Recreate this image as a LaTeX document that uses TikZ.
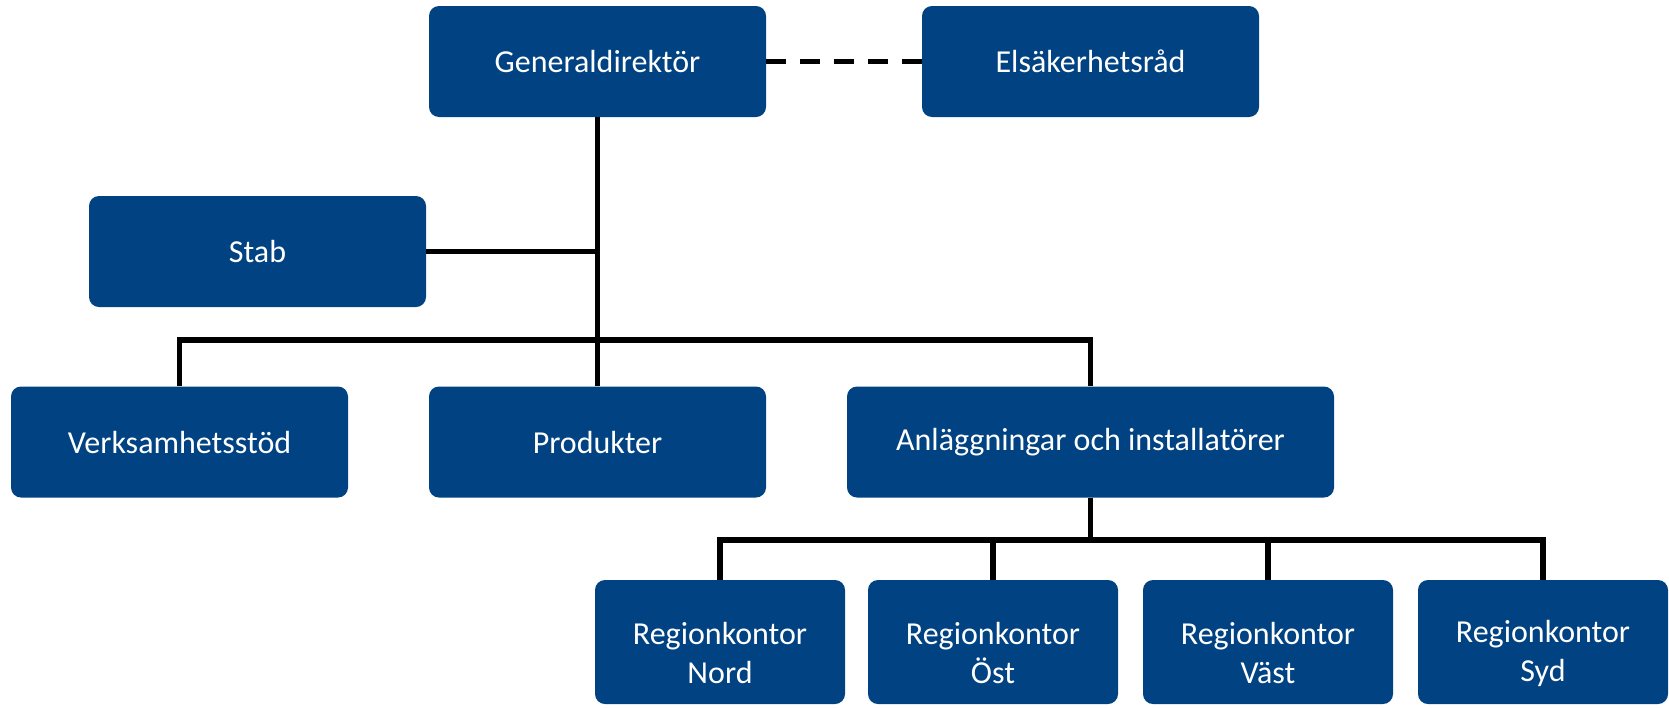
\documentclass[tikz,border=0pt]{standalone}
\usepackage{fontspec}
\setmainfont{Carlito}
\definecolor{boxblue}{RGB}{0,66,130}
\begin{document}
\begin{tikzpicture}[x=1pt,y=-1pt,
  unit/.style={fill=boxblue, rounded corners=10pt, text=white, align=center,
    font=\fontsize{32}{39}\selectfont, inner sep=0pt},
  bigbox/.style={unit, minimum width=337pt, minimum height=111pt},
  widebox/.style={unit, minimum width=487pt, minimum height=111pt},
  regbox/.style={unit, minimum width=250pt, minimum height=124pt},
  regtext/.style={text=white, align=center, font=\fontsize{32}{39}\selectfont,
    inner sep=0pt, yshift=-11pt},
  link/.style={draw=black, line width=5.5pt},
  dotlink/.style={draw=black, line width=5.5pt, dash pattern=on 20pt off 14pt}]
\useasboundingbox (0,0) rectangle (1669,707);
\node[bigbox] (gd) at (597.5,61.5) {Generaldirektör};
\node[bigbox] (els) at (1090.5,61.5) {Elsäkerhetsråd};
\node[bigbox] (stab) at (257.5,251.5) {Stab};
\node[bigbox] (vs) at (179.5,442) {Verksamhetsstöd};
\node[bigbox] (prod) at (597.5,442) {Produkter};
\node[widebox] (anl) at (1090.5,442) {Anläggningar och installatörer};
\node[regbox, label={[regtext]center:Regionkontor\\Nord}] (rn) at (720,642) {};
\node[regbox, label={[regtext]center:Regionkontor\\Öst}] (ro) at (993,642) {};
\node[regbox, label={[regtext]center:Regionkontor\\Väst}] (rv) at (1268,642) {};
\node[regbox, label={[regtext]center:Regionkontor\\Syd}] (rs) at (1543,642) {};
\coordinate (b1) at (597.5,340);
\coordinate (b2) at (1090.5,540);
\draw[dotlink] (gd.east) -- (els.west);
\draw[link] (gd.south) -- (prod.north);
\draw[link] (stab.east) -- (stab.east -| gd.south);
\draw[link] (vs.north) |- (b1) -| (anl.north);
\draw[link] (anl.south) -- (b2);
\draw[link] (rn.north) |- (b2) -| (rs.north);
\draw[link] (ro.north) -- (ro.north |- b2);
\draw[link] (rv.north) -- (rv.north |- b2);
\end{tikzpicture}
\end{document}
